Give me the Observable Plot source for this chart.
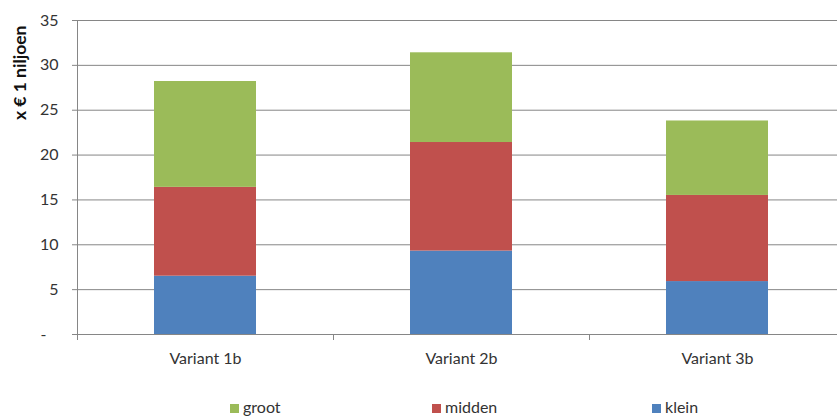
<!DOCTYPE html>
<html><head><meta charset="utf-8">
<script src="https://cdn.jsdelivr.net/npm/d3@7"></script>
<script src="https://cdn.jsdelivr.net/npm/@observablehq/plot@0.6"></script>
<style>
body{margin:0;background:#fff;font-family:Lato,sans-serif;}
#chart svg{display:block}
#legend{position:relative;width:837px;height:36px;font-size:16px;color:#333}
#legend .item{position:absolute;top:17px;line-height:19px;white-space:nowrap}
#legend .sw{display:inline-block;width:9px;height:9px;margin-right:4px;vertical-align:0px}
</style></head><body><div id="chart"></div><div id="legend"></div>
<script>
const categories = ["Variant 1b", "Variant 2b", "Variant 3b"];
const series = ["klein", "midden", "groot"];
const klein = [6.5, 9.3, 5.9];
const midden = [9.9, 12.1, 9.6];
const groot = [11.8, 10.0, 8.3];
const colors = ["#4F81BD", "#C0504D", "#9BBB59"];
const yTicks = [0, 5, 10, 15, 20, 25, 30, 35];
const legendOrder = ["groot", "midden", "klein"];
const legendLeft = {groot: 230, midden: 432, klein: 652};
const yLabel = "x € 1 niljoen";

const values = {klein, midden, groot};
const data = categories.flatMap((c, i) => series.map(s => ({cat: c, serie: s, value: values[s][i]})));

function bandTicks(index, scales, vals, dims) {
  const x = scales.x;
  const bw = x.bandwidth ? x.bandwidth() : 0;
  const step = categories.length > 1 ? x(categories[1]) - x(categories[0]) : bw;
  const pos = categories.map(c => x(c) - (step - bw) / 2);
  pos.push(x(categories[categories.length - 1]) + bw + (step - bw) / 2);
  const y0 = dims.height - dims.marginBottom;
  const g = d3.create("svg:g").attr("stroke", "#868686").attr("stroke-width", 1);
  for (const p of pos) {
    if (p > dims.width) continue;
    const xx = Math.round(p) + 0.5;
    g.append("line").attr("x1", xx).attr("x2", xx).attr("y1", y0).attr("y2", y0 + 6);
  }
  return g.node();
}

const chart = Plot.plot({
  width: 837,
  height: 380,
  marginTop: 20,
  marginBottom: 46,
  marginLeft: 77,
  marginRight: 0,
  style: {fontFamily: "Lato, sans-serif", fontSize: "16px", color: "#333", background: "#fff", overflow: "hidden"},
  x: {domain: categories, range: [77, 845], paddingInner: 0.6, paddingOuter: 0.3, label: null},
  y: {domain: [0, 35], label: null},
  color: {domain: series, range: colors},
  marks: [
    Plot.ruleY(yTicks, {stroke: "#868686", strokeWidth: 1}),
    Plot.barY(data, Plot.stackY({order: series}, {x: "cat", y: "value", fill: "serie", z: "serie"})),
    Plot.ruleX([0], {x: () => categories[0], render: bandTicks}),
    Plot.frame({anchor: "left", stroke: "#868686"}),
    Plot.axisY({ticks: yTicks, tickSize: 5, tickPadding: 14, stroke: "#868686",
      tickFormat: d => d === 0 ? "-\u2002\u00a0" : String(d), fill: "#333"}),
    Plot.axisX({tickSize: 0, tickPadding: 18, fill: "#333"}),
    Plot.text([yLabel], {frameAnchor: "top-left", dx: -64, dy: 5, rotate: -90, textAnchor: "end",
      text: d => d, fontWeight: "bold", fontSize: 17.5, fill: "#111"})
  ]
});
document.getElementById("chart").appendChild(chart);

const leg = document.getElementById("legend");
legendOrder.forEach(s => {
  const it = document.createElement("div");
  it.className = "item";
  it.style.left = legendLeft[s] + "px";
  const sw = document.createElement("span");
  sw.className = "sw";
  sw.style.background = colors[series.indexOf(s)];
  it.appendChild(sw);
  it.appendChild(document.createTextNode(s));
  leg.appendChild(it);
});
</script></body></html>
